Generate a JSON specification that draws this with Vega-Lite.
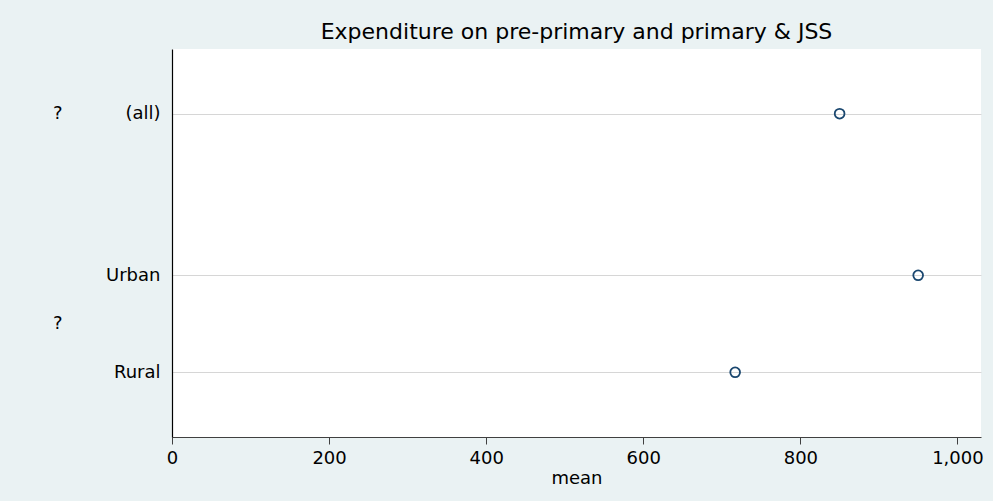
{
  "$schema": "https://vega.github.io/schema/vega-lite/v6.json",
  "width": 809,
  "height": 388,
  "autosize": {"type": "none"},
  "padding": {"left": 172, "top": 49, "right": 12, "bottom": 64},
  "background": "#EAF2F3",
  "view": {"fill": "white", "stroke": null},
  "config": {
    "font": "DejaVu Sans",
    "axis": {"labelFont": "DejaVu Sans", "titleFont": "DejaVu Sans", "labelColor": "#000000", "titleColor": "#000000", "titleFontWeight": "normal"}
  },
  "title": {
    "text": "Expenditure on pre-primary and primary & JSS",
    "font": "DejaVu Sans",
    "fontSize": 22,
    "fontWeight": "normal",
    "color": "#000000",
    "anchor": "middle",
    "offset": 5
  },
  "datasets": {
    "means": [
      {"area": "(all)", "mean": 850},
      {"area": "Urban", "mean": 950},
      {"area": "Rural", "mean": 717}
    ],
    "groups": [
      {"group": "?", "row": "(all)"},
      {"group": "?", "row": "_13"}
    ]
  },
  "resolve": {"axis": {"y": "independent"}},
  "layer": [
    {
      "data": {"name": "means"},
      "mark": {"type": "point", "shape": "circle", "filled": false, "size": 95, "strokeWidth": 1.8, "color": "#1A476F", "opacity": 1},
      "encoding": {
        "x": {
          "field": "mean",
          "type": "quantitative",
          "scale": {"domain": [0, 1030], "nice": false, "zero": true},
          "axis": {
            "title": "mean",
            "values": [0, 200, 400, 600, 800, 1000],
            "format": ",d",
            "grid": false,
            "labelFlush": false,
            "labelOverlap": false,
            "domainColor": "#404040",
            "domainWidth": 1.2,
            "tickColor": "#404040",
            "tickSize": 7,
            "labelFontSize": 18,
            "labelPadding": 5,
            "titleFontSize": 18,
            "titlePadding": 2
          }
        },
        "y": {
          "field": "area",
          "type": "nominal",
          "sort": null,
          "scale": {
            "type": "point",
            "padding": 1,
            "domain": ["_a", "_b", "_c", "(all)", "_1", "_2", "_3", "_4", "_5", "_6", "_7", "_8", "_9", "Urban", "_11", "_12", "_13", "_14", "_15", "Rural", "_x", "_y", "_z"]
          },
          "axis": {
            "title": null,
            "orient": "left",
            "values": ["(all)", "Urban", "Rural"],
            "grid": true,
            "gridColor": "#D6D6D6",
            "gridWidth": 1,
            "domainColor": "#000000",
            "domainWidth": 1.2,
            "ticks": false,
            "labelFontSize": 18,
            "labelPadding": 12,
            "zindex": 0
          }
        }
      }
    },
    {
      "data": {"name": "groups"},
      "mark": {"type": "text", "opacity": 0},
      "encoding": {
        "text": {"field": "group"},
        "y": {
          "field": "row",
          "type": "nominal",
          "sort": null,
          "scale": {
            "type": "point",
            "padding": 1,
            "domain": ["_a", "_b", "_c", "(all)", "_1", "_2", "_3", "_4", "_5", "_6", "_7", "_8", "_9", "Urban", "_11", "_12", "_13", "_14", "_15", "Rural", "_x", "_y", "_z"]
          },
          "axis": {
            "title": null,
            "orient": "left",
            "values": ["(all)", "_13"],
            "labelExpr": "'?'",
            "grid": false,
            "domain": false,
            "ticks": false,
            "labelFontSize": 18,
            "labelPadding": 110,
            "offset": 0
          }
        }
      }
    }
  ]
}
